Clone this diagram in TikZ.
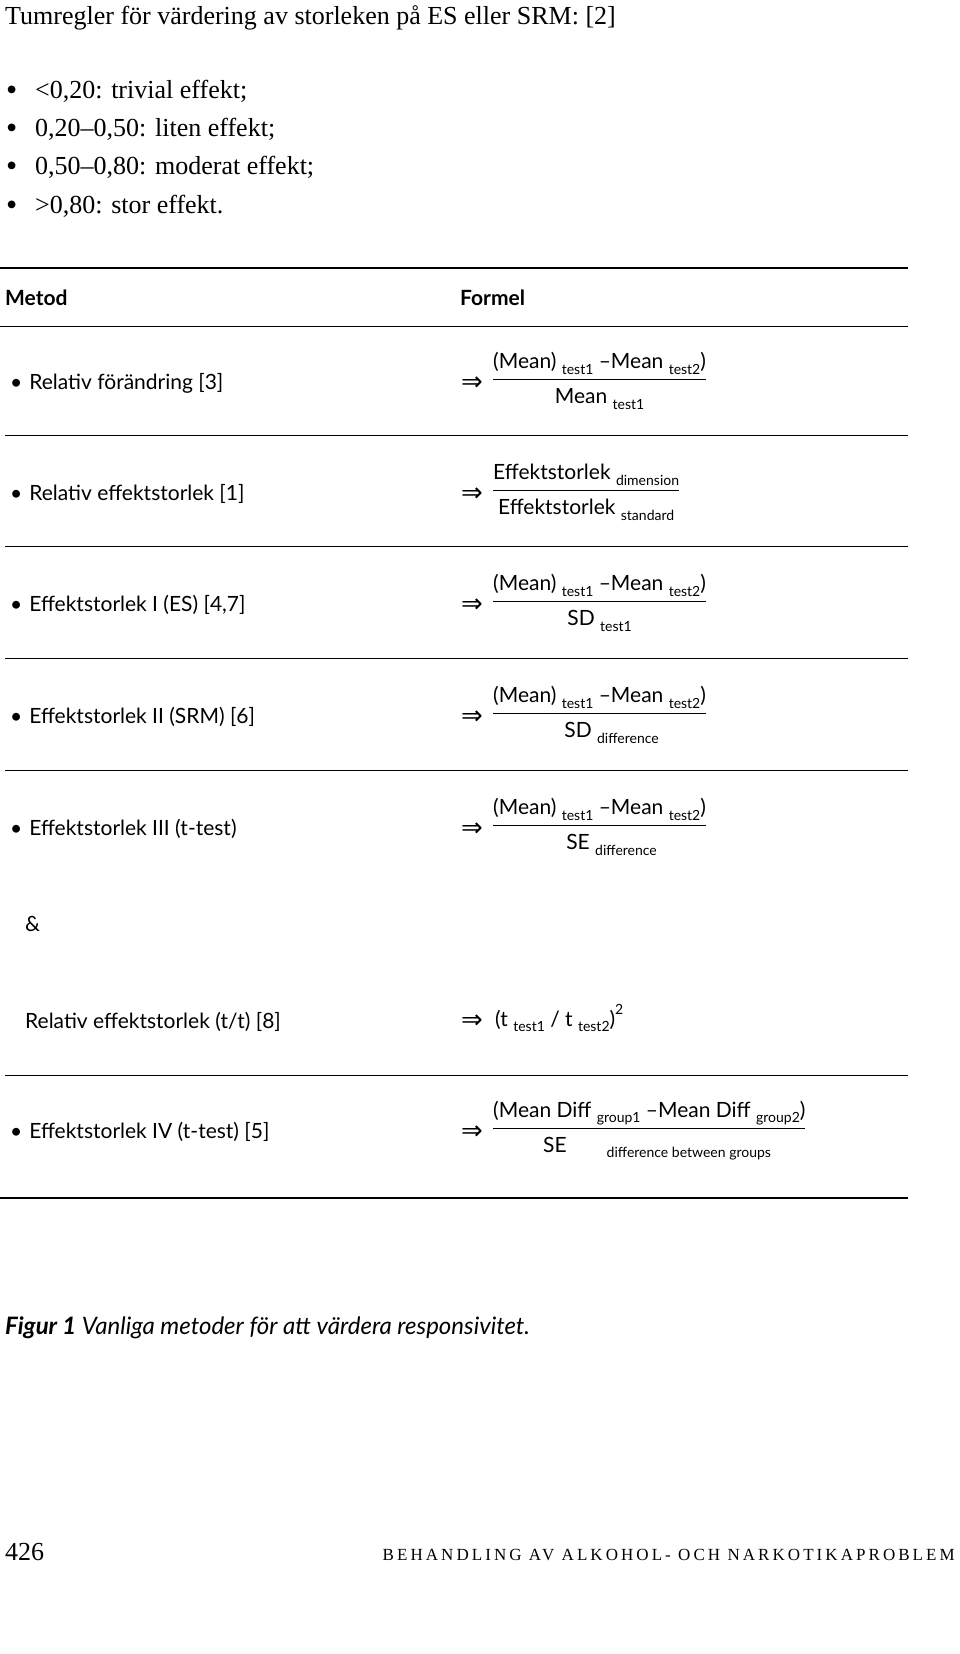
\documentclass[tikz,border=0pt]{standalone}
\usepackage{fontspec}
\setmainfont{Liberation Serif}
\setsansfont{Lato}
\newfontfamily\djv{DejaVu Sans}
\newcommand\sbs[1]{\raisebox{-0.55ex}{\fontsize{14}{16}\selectfont #1}}
\newcommand\impl{{\djv\fontsize{26}{28}\selectfont ⇒}}
\begin{document}
\begin{tikzpicture}[x=1pt,y=-1pt,
  ser/.style={anchor=base west,inner sep=0pt,font=\fontsize{26}{30}\selectfont},
  tx/.style={anchor=base west,inner sep=0pt,font=\sffamily\fontsize{21}{25}\selectfont},
  hd/.style={anchor=base west,inner sep=0pt,font=\sffamily\bfseries\fontsize{21}{25}\selectfont},
  fr/.style={anchor=center,inner sep=0pt,font=\sffamily\fontsize{21}{25}\selectfont},
  ar/.style={anchor=center,inner sep=0pt},
  rl/.style={line width=0.8pt},
  trl/.style={line width=1.4pt}]
\useasboundingbox (0,0) rectangle (960,1654);
\fill[white] (0,0) rectangle (960,1654);
\node[ser] (title) at (5,25) {Tumregler för värdering av storleken på ES eller SRM: [2]};
\foreach \i/\y/\t in {1/98/{<0,20: trivial effekt;},2/136/{0,20–0,50: liten effekt;},3/174/{0,50–0,80: moderat effekt;},4/213/{>0,80: stor effekt.}}{
  \node[ser,font=\fontsize{32}{34}\selectfont] (bu\i) at (6,\y+2) {•};
  \node[ser] (b\i) at (35,\y) {\t};
}
\draw[trl] (0,268) coordinate (r0a) -- (908,268) coordinate (r0b);
\node[hd] (metod) at (5,305) {Metod};
\node[hd] (formel) at (460,305) {Formel};
\draw[rl] (0,326) -- (908,326);
\newcommand\row[4]{%
  \node[tx] (l#1) at (10,#2+8) {•\hspace{7pt}#3};
  \node[ar] (a#1) at (472,#2+3) {\impl};
  \node[fr,anchor=west] (f#1) at (493,#2) {\begin{tabular}{@{}c@{}}#4\end{tabular}};}
\row{1}{381}{Relativ förändring [3]}{(Mean) \sbs{test1} –Mean \sbs{test2})\\[3pt]\hline\rule{0pt}{24pt}Mean \sbs{test1}}
\draw[rl] (5,435) -- (908,435);
\row{2}{492}{Relativ effektstorlek [1]}{Effektstorlek \sbs{dimension}\\[3pt]\hline\rule{0pt}{24pt}Effektstorlek \sbs{standard}}
\draw[rl] (5,546) -- (908,546);
\row{3}{603}{Effektstorlek I (ES) [4,7]}{(Mean) \sbs{test1} –Mean \sbs{test2})\\[3pt]\hline\rule{0pt}{24pt}SD \sbs{test1}}
\draw[rl] (5,658) -- (908,658);
\row{4}{715}{Effektstorlek II (SRM) [6]}{(Mean) \sbs{test1} –Mean \sbs{test2})\\[3pt]\hline\rule{0pt}{24pt}\hspace{24pt}SD \sbs{difference}}
\draw[rl] (5,770) -- (908,770);
\row{5}{827}{Effektstorlek III (t-test)}{(Mean) \sbs{test1} –Mean \sbs{test2})\\[3pt]\hline\rule{0pt}{24pt}\hspace{24pt}SE \sbs{difference}}
\node[tx] (amp) at (25,931) {\&};
\node[tx] (l6) at (25,1028) {Relativ effektstorlek (t/t) [8]};
\node[ar] (a6) at (472,1022) {\impl};
\node[tx] (f6) at (495,1026) {(t \sbs{test1} / t \sbs{test2})\raisebox{1.1ex}{\fontsize{14}{16}\selectfont 2}};
\draw[rl] (5,1075) -- (908,1075);
\node[tx] (l7) at (10,1138) {•\hspace{7pt}Effektstorlek IV (t-test) [5]};
\node[ar] (a7) at (472,1133) {\impl};
\node[fr,anchor=west] (f7) at (493,1130) {\begin{tabular}{@{}l@{}}(Mean Diff \sbs{group1} –Mean Diff \sbs{group2})\\[3pt]\hline\rule{0pt}{24pt}\hspace{50pt}SE\hspace{40pt}\sbs{difference between groups}\end{tabular}};
\draw[trl] (0,1198) -- (908,1198);
\node[tx,font=\sffamily\fontsize{24}{28}\selectfont\itshape] (cap) at (5,1334) {\textbf{Figur 1} Vanliga metoder för att värdera responsivitet.};
\node[ser] (pg) at (5,1560) {426};
\node[anchor=base east,inner sep=0pt,font=\fontsize{17}{20}\selectfont\addfontfeature{LetterSpace=18}] (foot) at (955,1560) {BEHANDLING AV ALKOHOL- OCH NARKOTIKAPROBLEM};
\end{tikzpicture}
\end{document}
